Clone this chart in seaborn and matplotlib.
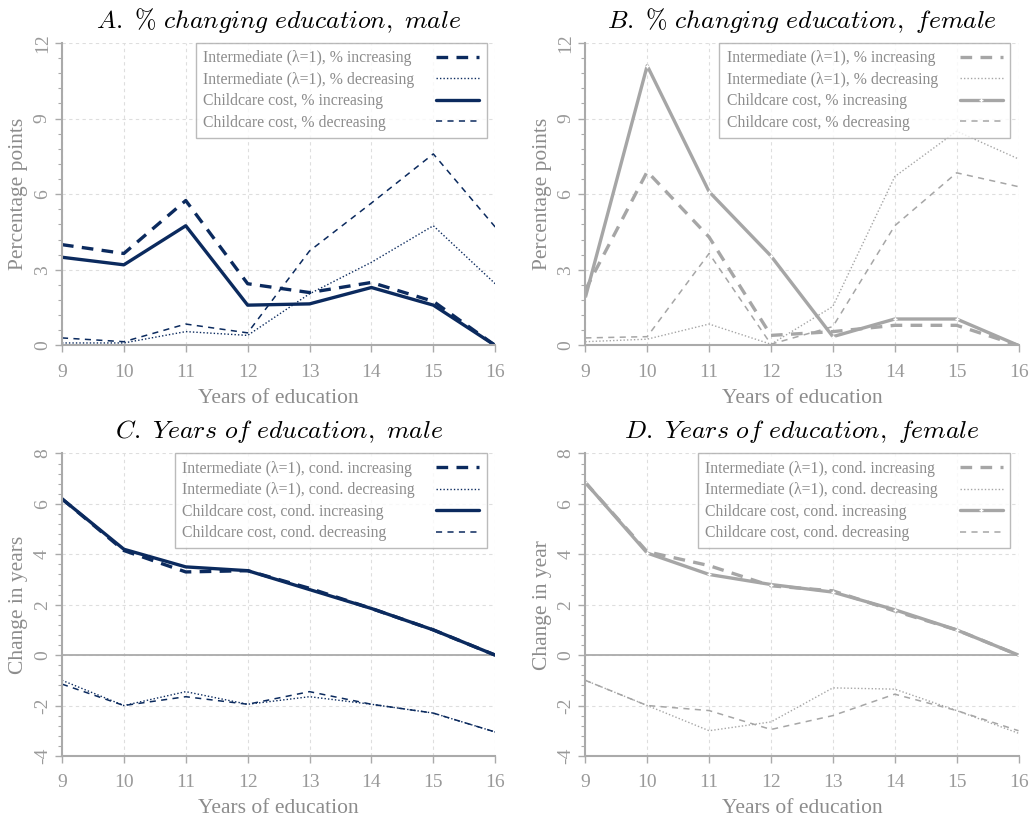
import numpy as np
import pandas as pd
import seaborn as sns
import matplotlib.pyplot as plt
from matplotlib.ticker import MultipleLocator

years = [9, 10, 11, 12, 13, 14, 15, 16]

# panel A: % changing education, male
a_int_inc = [4.0, 3.65, 5.75, 2.45, 2.1, 2.5, 1.75, 0.0]
a_int_dec = [0.1, 0.1, 0.55, 0.4, 2.05, 3.3, 4.75, 2.45]
a_cc_inc = [3.5, 3.2, 4.75, 1.6, 1.65, 2.3, 1.6, 0.0]
a_cc_dec = [0.3, 0.15, 0.85, 0.5, 3.75, 5.65, 7.6, 4.7]

# panel B: % changing education, female
b_int_inc = [2.2, 6.9, 4.3, 0.4, 0.55, 0.8, 0.8, 0.0]
b_int_dec = [0.15, 0.25, 0.85, 0.05, 1.55, 6.7, 8.5, 7.4]
b_cc_inc = [1.9, 11.1, 6.1, 3.55, 0.35, 1.05, 1.05, 0.0]
b_cc_dec = [0.3, 0.35, 3.65, 0.05, 0.75, 4.75, 6.85, 6.3]

# panel C: years of education, male
c_int_inc = [6.2, 4.15, 3.3, 3.35, 2.65, 1.85, 1.0, 0.0]
c_int_dec = [-1.0, -2.0, -1.45, -1.95, -1.65, -1.95, -2.3, -3.05]
c_cc_inc = [6.2, 4.2, 3.5, 3.35, 2.6, 1.85, 1.0, 0.0]
c_cc_dec = [-1.15, -2.0, -1.65, -1.95, -1.45, -1.95, -2.3, -3.05]

# panel D: years of education, female
d_int_inc = [6.85, 4.1, 3.55, 2.75, 2.55, 1.75, 1.0, 0.0]
d_int_dec = [-1.0, -2.0, -3.0, -2.65, -1.3, -1.35, -2.2, -3.1]
d_cc_inc = [6.85, 4.05, 3.2, 2.8, 2.5, 1.8, 1.0, 0.0]
d_cc_dec = [-1.0, -2.0, -2.2, -2.95, -2.4, -1.55, -2.2, -3.0]

pct_labels = ['Intermediate (\u03bb=1), % increasing', 'Intermediate (\u03bb=1), % decreasing',
              'Childcare cost, % increasing', 'Childcare cost, % decreasing']
cond_labels = ['Intermediate (\u03bb=1), cond. increasing', 'Intermediate (\u03bb=1), cond. decreasing',
               'Childcare cost, cond. increasing', 'Childcare cost, cond. decreasing']

NAVY = '#0b2a5e'
GREY = '#a6a6a6'
TXT = '#999999'

sns.set_theme(style='white')
plt.rcParams['font.family'] = ['Liberation Serif', 'DejaVu Serif']
plt.rcParams['mathtext.fontset'] = 'cm'
plt.rcParams['axes.unicode_minus'] = False

fig, axes = plt.subplots(2, 2, figsize=(10.33, 8.19), dpi=100)
fig.subplots_adjust(left=0.060, right=0.986, top=0.9475, bottom=0.077, wspace=0.208, hspace=0.357)

styles = [dict(lw=2.4, dashes=(3.5, 2.5)),
          dict(lw=1.0, dashes=(1, 1.5)),
          dict(lw=2.4, dashes=()),
          dict(lw=1.1, dashes=(4, 3.5))]

legends = []


def draw(ax, series, labels, color, title, ylab, ylim, major, minor, female):
    for vals, lab, st in zip(series, labels, styles):
        df = pd.DataFrame({'x': years, 'y': vals})
        kw = {}
        if female and st['dashes'] == ():
            kw = dict(marker='+', markersize=3, markeredgewidth=1)
        sns.lineplot(data=df, x='x', y='y', ax=ax, color=color, lw=st['lw'], label=lab, **kw)
        if st['dashes']:
            ax.lines[-1].set_dashes(st['dashes'])
    ax.set_xlim(9, 16)
    ax.set_ylim(*ylim)
    ax.set_xticks(years)
    ax.yaxis.set_major_locator(MultipleLocator(major))
    ax.yaxis.set_minor_locator(MultipleLocator(minor))
    ax.grid(True, which='major', color='#dedede', ls=(0, (3, 3)), lw=0.8)
    for s in ['top', 'right']:
        ax.spines[s].set_visible(False)
    for s in ['left', 'bottom']:
        ax.spines[s].set_color('#aaaaaa')
        ax.spines[s].set_linewidth(1.5)
    if ylim[0] < 0:
        ax.axhline(0, color='#aaaaaa', lw=1.3, zorder=1)
    ax.tick_params(axis='both', which='major', length=5, width=1, color='#aaaaaa',
                   labelcolor=TXT, labelsize=14, direction='out', left=True, bottom=True)
    ax.tick_params(axis='x', pad=8)
    ax.tick_params(axis='y', pad=3)
    ax.tick_params(axis='y', which='minor', length=3, width=0.8, color='#aaaaaa', direction='out', left=True)
    for t in ax.get_yticklabels():
        t.set_rotation(90)
        t.set_va('center')
    ax.set_xlabel('Years of education', color='#8c8c8c', fontsize=15.5, labelpad=6)
    ax.set_ylabel(ylab, color='#8c8c8c', fontsize=15.5, labelpad=4)
    ax.set_title(title, fontsize=18.5, color='black', pad=11)
    leg = ax.legend(loc='upper right', markerfirst=False, fontsize=11.3, frameon=True, fancybox=False,
                    handlelength=2.75, borderpad=0.45, labelspacing=0.35, handletextpad=1.4,
                    bbox_to_anchor=(0.98, 1.0), borderaxespad=0.0)
    leg.get_frame().set_edgecolor('#aaaaaa')
    leg.get_frame().set_linewidth(1.0)
    for t in leg.get_texts():
        t.set_color('#8c8c8c')
    legends.append(leg)


draw(axes[0, 0], [a_int_inc, a_int_dec, a_cc_inc, a_cc_dec], pct_labels, NAVY,
     r'$\mathit{A.\ \%\ changing\ education,\ male}$', 'Percentage points', (0, 12), 3, 0.6, False)
draw(axes[0, 1], [b_int_inc, b_int_dec, b_cc_inc, b_cc_dec], pct_labels, GREY,
     r'$\mathit{B.\ \%\ changing\ education,\ female}$', 'Percentage points', (0, 12), 3, 0.6, True)
draw(axes[1, 0], [c_int_inc, c_int_dec, c_cc_inc, c_cc_dec], cond_labels, NAVY,
     r'$\mathit{C.\ Years\ of\ education,\ male}$', 'Change in years', (-4, 8), 2, 0.4, False)
draw(axes[1, 1], [d_int_inc, d_int_dec, d_cc_inc, d_cc_dec], cond_labels, GREY,
     r'$\mathit{D.\ Years\ of\ education,\ female}$', 'Change in year', (-4, 8), 2, 0.4, True)

# left-align legend labels while keeping the line samples on the right
fig.canvas.draw()
for leg in legends:
    widths = [t.get_window_extent().width for t in leg.get_texts()]
    wmax = max(widths)
    items = leg._legend_handle_box.get_children()[0].get_children()
    for item, w in zip(items, widths):
        item.sep = item.sep + (wmax - w) * 72.0 / fig.dpi

fig.savefig('out.png', dpi=100)
